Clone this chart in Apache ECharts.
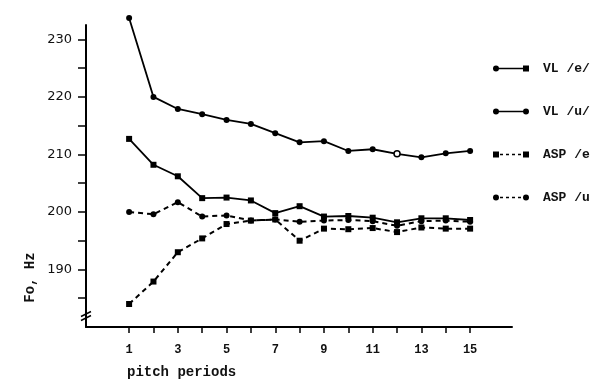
<!DOCTYPE html>
<html>
<head>
<meta charset="utf-8">
<script src="https://cdn.jsdelivr.net/npm/echarts@6/dist/echarts.min.js"></script>
<style>html,body{margin:0;padding:0;background:#fff;}#c{width:592px;height:381px;}</style>
</head>
<body>
<div id="c"></div>
<script>
// ---- data ----
const periods = [1,2,3,4,5,6,7,8,9,10,11,12,13,14,15];
const xTickValues = [1,2,3,4,5,6,7,8,9,10,11,12,13,14,15];
const xLabelValues = [1,3,5,7,9,11,13,15];
const yTickValues = [185,190,195,200,205,210,215,220,225,230];
const yLabelValues = [190,200,210,220,230];
const seriesNames = ['VL /e/', 'VL /u/', 'ASP /e', 'ASP /u'];
const vlE  = [212.7,208.2,206.2,202.4,202.5,202.0,199.8,201.0,199.2,199.3,199.0,198.2,198.9,198.9,198.6];
const vlU  = [233.7,220.0,217.9,217.0,216.0,215.3,213.7,212.1,212.3,210.6,210.9,210.1,209.5,210.2,210.6];
const aspE = [184.0,187.9,193.0,195.4,197.9,198.5,198.7,195.0,197.1,197.0,197.2,196.5,197.3,197.1,197.1];
const aspU = [200.0,199.6,201.7,199.2,199.4,198.5,198.7,198.3,198.5,198.6,198.4,197.6,198.4,198.5,198.3];
const openPointIndexVlU = 11;
const xAxisName = 'pitch periods';
const yAxisName = 'Fo, Hz';

const mono = '"Liberation Mono", "DejaVu Sans Mono", monospace';
const pair = (arr) => arr.map((v, i) => [periods[i], v]);

// legend icons: line with a marker at both ends
const circL = 'M0,4 A3,3 0 1,1 6,4 A3,3 0 1,1 0,4 Z ';
const circR = 'M30,4 A3,3 0 1,1 36,4 A3,3 0 1,1 30,4 Z ';
const sqL = 'M0,1 L6,1 L6,7 L0,7 Z ';
const sqR = 'M30,1 L36,1 L36,7 L30,7 Z ';
const solid = 'M5,3.3 L31,3.3 L31,4.7 L5,4.7 Z ';
const dashed = 'M7,3.3 L10,3.3 L10,4.7 L7,4.7 Z M13,3.3 L16,3.3 L16,4.7 L13,4.7 Z M19,3.3 L22,3.3 L22,4.7 L19,4.7 Z M25,3.3 L28,3.3 L28,4.7 L25,4.7 Z ';
const icons = {
  'VL /e/': 'path://' + circL + solid + sqR,
  'VL /u/': 'path://' + circL + solid + circR,
  'ASP /e': 'path://' + sqL + dashed + sqR,
  'ASP /u': 'path://' + circL + dashed + circR
};

const chart = echarts.init(document.getElementById('c'), null, {renderer: 'canvas'});

const xMin = -0.77, xMax = 16.72;
const yMin = 180, yMax = 232.5;

function mkSeries(name, data, symbol, dashedLine) {
  return {
    name: name,
    type: 'line',
    data: data,
    symbol: symbol,
    symbolSize: 6,
    showSymbol: true,
    clip: false,
    itemStyle: {color: '#000'},
    lineStyle: {color: '#000', width: dashedLine ? 2 : 1.8, type: dashedLine ? [5, 4] : 'solid'},
    emphasis: {disabled: true},
    animation: false
  };
}

const vlUData = pair(vlU).map((p, i) => i === openPointIndexVlU
  ? {value: p, itemStyle: {color: '#fff', borderColor: '#000', borderWidth: 1.5}}
  : p);

chart.setOption({
  backgroundColor: '#fff',
  animation: false,
  grid: {left: 86, right: 80, top: 25, bottom: 54},
  title: {
    text: xAxisName,
    left: 122, top: 360,
    textStyle: {fontFamily: mono, fontSize: 14, fontWeight: 'bold', color: '#111'}
  },
  legend: {
    orient: 'vertical',
    left: 493, top: 62,
    padding: 0,
    itemWidth: 36, itemHeight: 8,
    itemGap: 30,
    selectedMode: false,
    data: seriesNames.map(n => ({name: n, icon: icons[n], itemStyle: {color: '#000', borderWidth: 0}})),
    textStyle: {fontFamily: mono, fontSize: 13, fontWeight: 'bold', color: '#111', padding: [0, 0, 0, 9]}
  },
  xAxis: {
    type: 'value',
    min: xMin, max: xMax,
    axisLine: {show: true, onZero: false, lineStyle: {color: '#000', width: 2}},
    axisTick: {show: true, customValues: xTickValues, length: 6, lineStyle: {color: '#000', width: 1.5}},
    axisLabel: {show: true, customValues: xLabelValues, margin: 17, fontFamily: mono, fontSize: 12, fontWeight: 'bold', color: '#111'},
    splitLine: {show: false}
  },
  yAxis: {
    type: 'value',
    min: yMin, max: yMax,
    axisLine: {show: true, onZero: false, lineStyle: {color: '#000', width: 2}},
    axisTick: {show: true, customValues: yTickValues, length: 8, lineStyle: {color: '#000', width: 1.5}},
    axisLabel: {show: true, customValues: yLabelValues, margin: 14, fontFamily: '"DejaVu Sans", sans-serif', fontSize: 13, color: '#111'},
    splitLine: {show: false}
  },
  series: [
    mkSeries('VL /e/', pair(vlE), 'rect', false),
    mkSeries('VL /u/', vlUData, 'circle', false),
    mkSeries('ASP /e', pair(aspE), 'rect', true),
    mkSeries('ASP /u', pair(aspU), 'circle', true)
  ]
});

// decorations: axis break mark and rotated y-axis name, positioned through the axis scales
const brk = chart.convertToPixel({gridIndex: 0}, [xMin, 182]);
const nameAt = chart.convertToPixel({gridIndex: 0}, [xMin, 188.6]);
chart.setOption({
  graphic: [
    {type: 'line', shape: {x1: brk[0] - 5, y1: brk[1] + 1, x2: brk[0] + 5, y2: brk[1] - 4}, style: {stroke: '#000', lineWidth: 1.5}},
    {type: 'line', shape: {x1: brk[0] - 5, y1: brk[1] + 5, x2: brk[0] + 5, y2: brk[1]}, style: {stroke: '#000', lineWidth: 1.5}},
    {type: 'text', x: nameAt[0] - 56, y: nameAt[1], rotation: Math.PI / 2,
     style: {text: yAxisName, font: 'bold 14px ' + mono, fill: '#111', align: 'center', verticalAlign: 'middle'}}
  ]
});
</script>
</body>
</html>
